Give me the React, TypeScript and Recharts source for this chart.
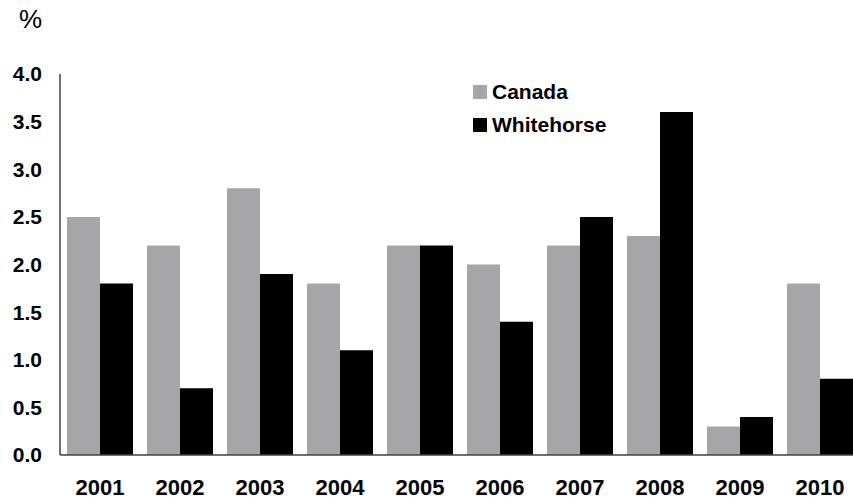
import { BarChart, Bar, XAxis, YAxis } from 'recharts';

const years = ['2001', '2002', '2003', '2004', '2005', '2006', '2007', '2008', '2009', '2010'];
const canada = [2.5, 2.2, 2.8, 1.8, 2.2, 2.0, 2.2, 2.3, 0.3, 1.8];
const whitehorse = [1.8, 0.7, 1.9, 1.1, 2.2, 1.4, 2.5, 3.6, 0.4, 0.8];
const yTicks = [0, 0.5, 1, 1.5, 2, 2.5, 3, 3.5, 4];

const GREY = '#a6a6a8';
const FONT = '"Liberation Sans", Arial, sans-serif';

const data = years.map((year, i) => ({ year, Canada: canada[i], Whitehorse: whitehorse[i] }));

// legend drawn as an overlay so it doesn't shrink the plot area
function LegendBox() {
  const items = [
    { name: 'Canada', color: GREY },
    { name: 'Whitehorse', color: '#000' },
  ];
  return (
    <div style={{ position: 'absolute', left: 473, top: 75, fontFamily: FONT, fontWeight: 'bold', fontSize: 21 }}>
      {items.map((it) => (
        <div key={it.name} style={{ display: 'flex', alignItems: 'center', height: 33 }}>
          <span style={{ width: 14, height: 14, background: it.color, marginRight: 5 }} />
          <span style={{ color: '#000' }}>{it.name}</span>
        </div>
      ))}
    </div>
  );
}

export default function App() {
  return (
    <div style={{ position: 'absolute', left: 0, top: 0, width: 853, height: 504, overflow: 'hidden', background: '#fff' }}>
      <div style={{ position: 'absolute', left: 19, top: 4, fontFamily: FONT, fontSize: 26 }}>%</div>
      <BarChart
        width={860}
        height={504}
        data={data}
        margin={{ top: 74, right: 0, bottom: 0, left: 0 }}
        barGap={0}
        barCategoryGap={7}
      >
        <YAxis
          width={60}
          domain={[0, 4]}
          ticks={yTicks}
          tickFormatter={(v: number) => v.toFixed(1)}
          tickLine={false}
          tickSize={0}
          tickMargin={18}
          axisLine={{ stroke: '#404040', strokeWidth: 1.5 }}
          tick={{ fill: '#000', fontSize: 21, fontWeight: 'bold', fontFamily: FONT }}
          interval={0}
        />
        <XAxis
          dataKey="year"
          height={49}
          tickLine={false}
          tickSize={0}
          tickMargin={24}
          axisLine={{ stroke: '#404040', strokeWidth: 1.5 }}
          tick={{ fill: '#000', fontSize: 22, fontWeight: 'bold', fontFamily: FONT }}
          interval={0}
        />
        <Bar dataKey="Canada" fill={GREY} isAnimationActive={false} />
        <Bar dataKey="Whitehorse" fill="#000" isAnimationActive={false} />
      </BarChart>
      <LegendBox />
    </div>
  );
}
